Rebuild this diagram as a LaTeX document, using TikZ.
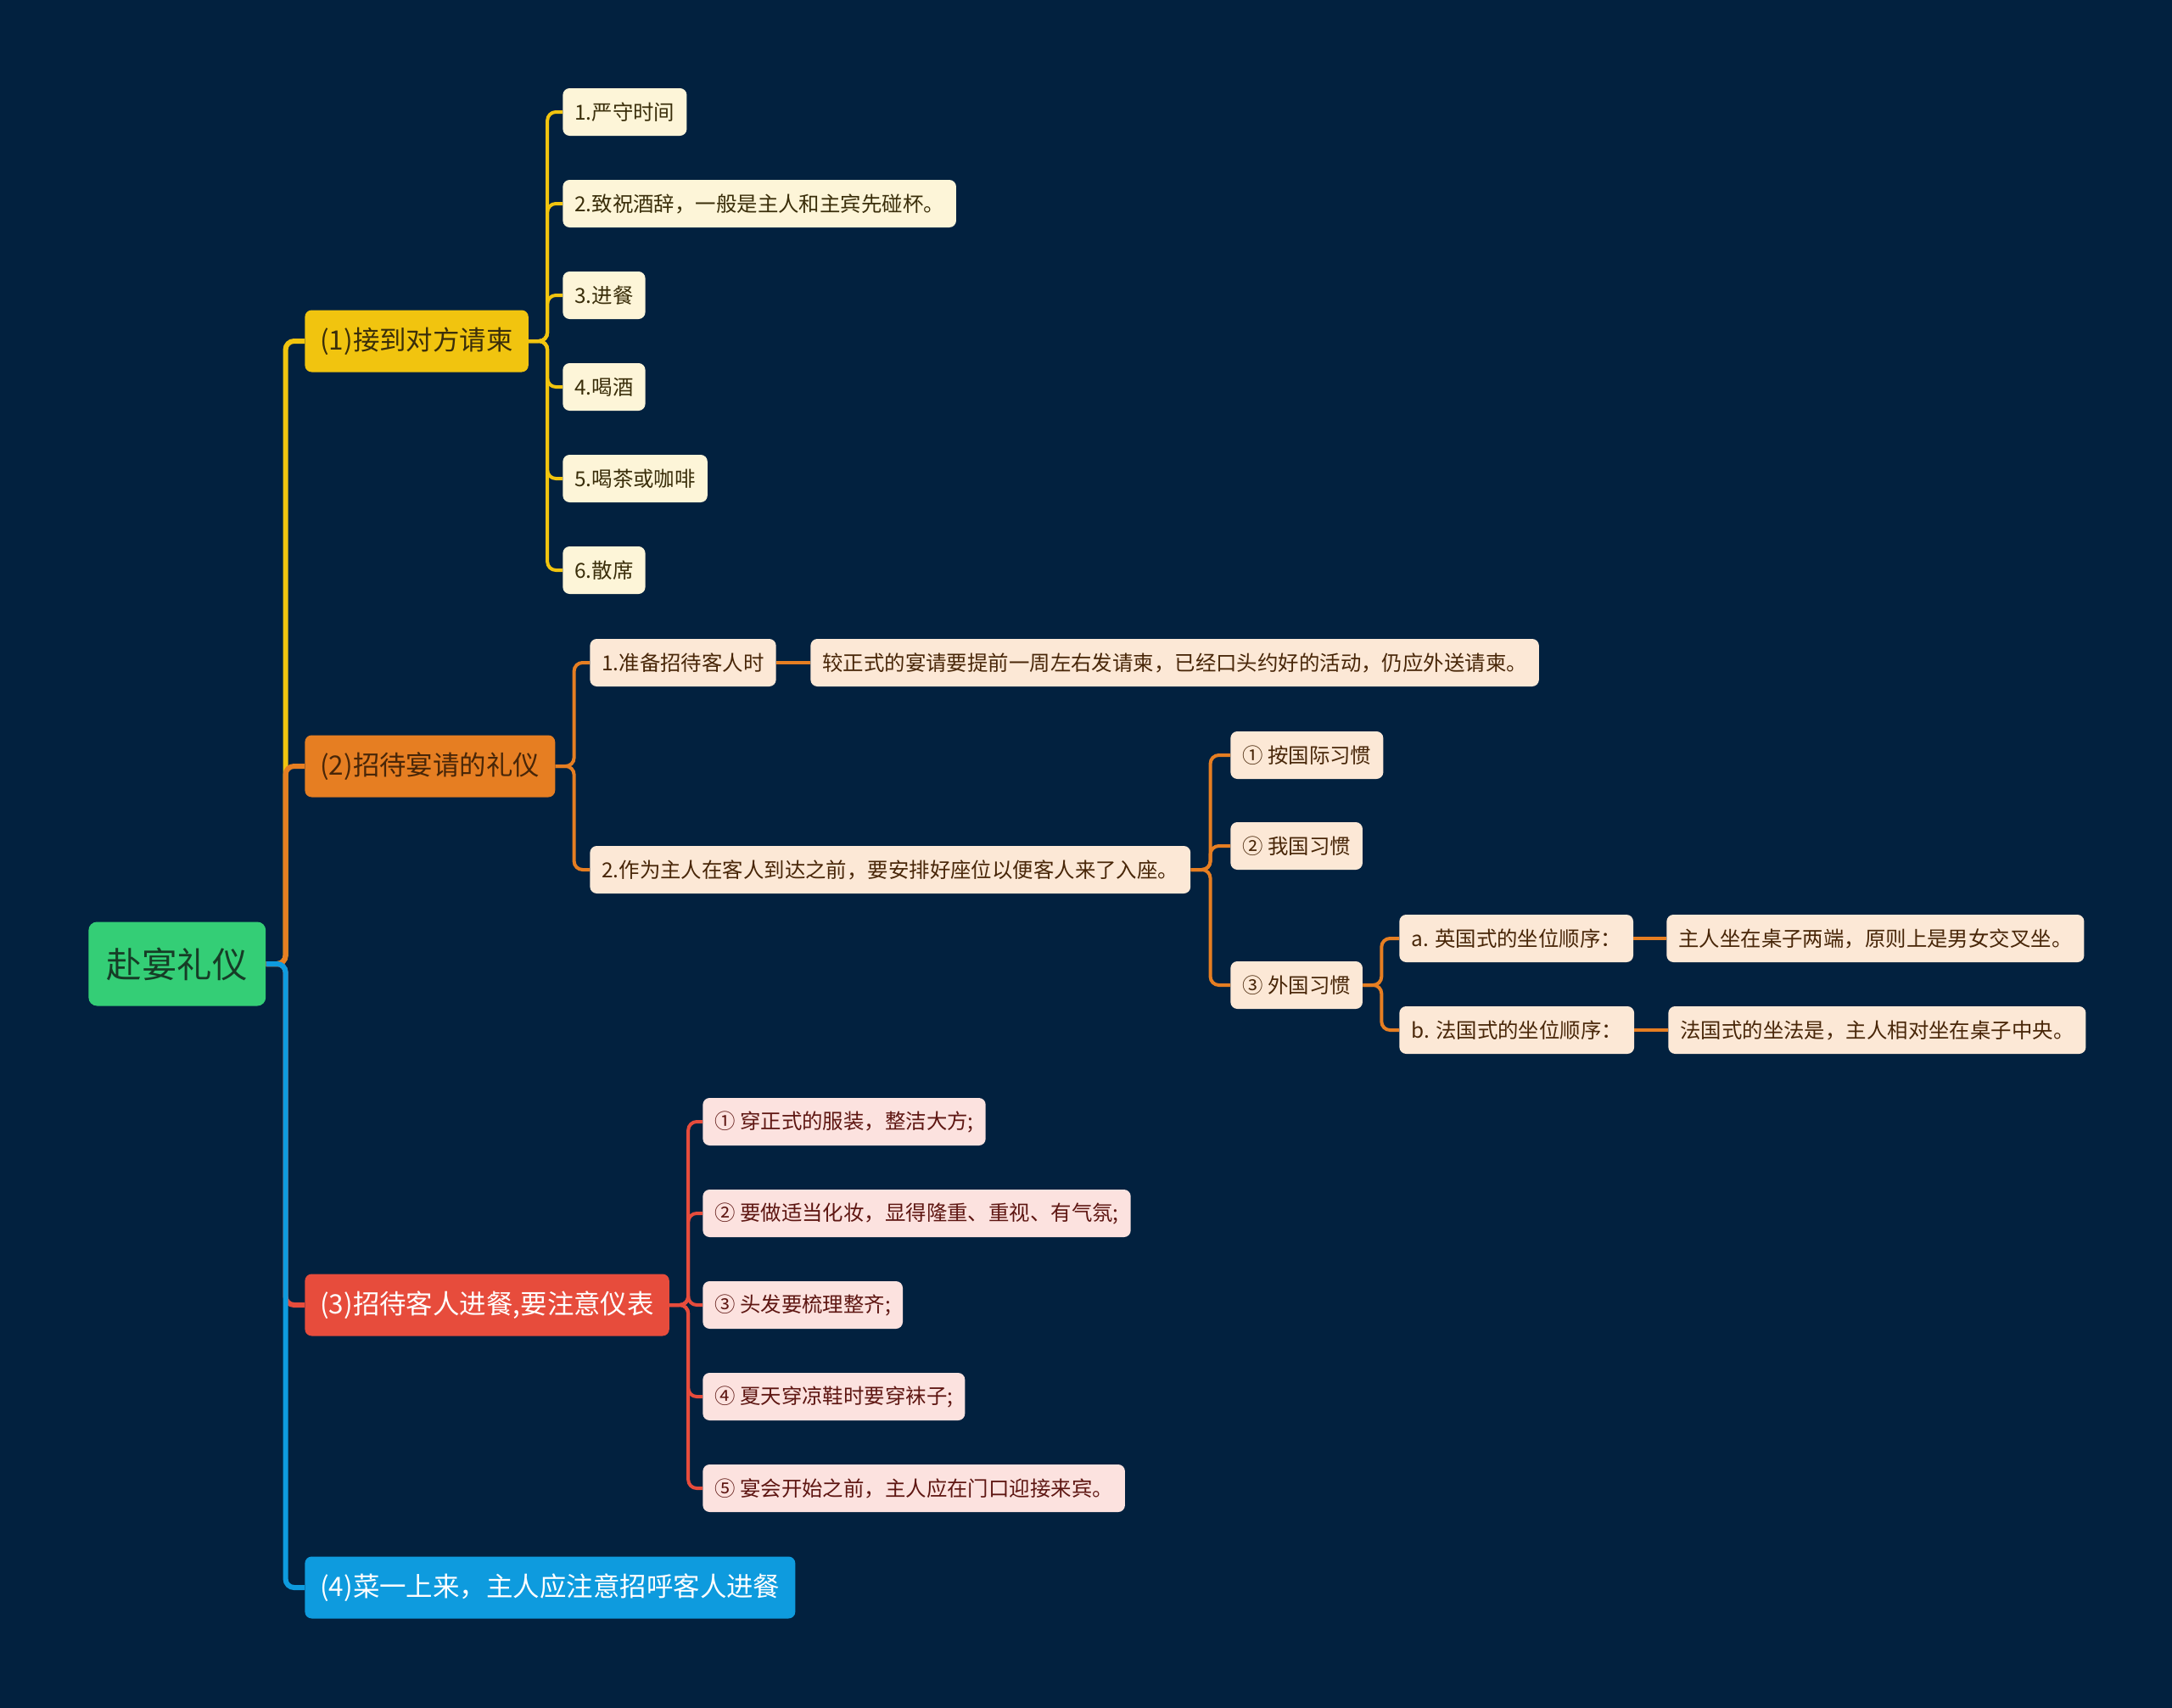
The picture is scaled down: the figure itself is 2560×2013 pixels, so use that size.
\documentclass[tikz,border=0pt]{standalone}
\usepackage{fontspec}
\setmainfont{Noto Sans CJK SC}

\definecolor{bg}{RGB}{2,33,63}
\definecolor{rootfill}{RGB}{52,206,118}
\definecolor{roottext}{RGB}{22,60,38}
\definecolor{yel}{RGB}{241,196,15}
\definecolor{ora}{RGB}{230,126,34}
\definecolor{redc}{RGB}{231,76,60}
\definecolor{blu}{RGB}{14,155,222}
\definecolor{yelleaf}{RGB}{253,245,216}
\definecolor{yeltext}{RGB}{58,46,10}
\definecolor{oraleaf}{RGB}{252,232,214}
\definecolor{oratext}{RGB}{72,38,8}
\definecolor{redleaf}{RGB}{252,226,223}
\definecolor{redtext}{RGB}{94,22,18}

\begin{document}
\begin{tikzpicture}[
  x=0.2mm, y=-0.2mm,
  every node/.style={inner sep=0pt},
  root/.style={rounded corners=2mm, fill=rootfill, text=roottext, anchor=west,
    minimum height=19.8mm, inner xsep=4.3mm, font=\fontsize{23.6pt}{26pt}\selectfont},
  topic/.style={rounded corners=1.6mm, anchor=west,
    minimum height=14.6mm, inner xsep=3.6mm, font=\fontsize{17.9pt}{20pt}\selectfont},
  leaf/.style={rounded corners=1.6mm, anchor=west,
    minimum height=11.2mm, inner xsep=2.8mm, font=\fontsize{13.9pt}{16pt}\selectfont},
  yleaf/.style={leaf, fill=yelleaf, text=yeltext},
  oleaf/.style={leaf, fill=oraleaf, text=oratext},
  rleaf/.style={leaf, fill=redleaf, text=redtext},
  % main branches are thicker than the twigs that hang off them
  link/.style={draw, line width=1.2mm, rounded corners=2mm},
  twig/.style={draw, line width=0.8mm, rounded corners=2mm}]

  \fill[bg] (0,0) rectangle (2560,2013);
  \useasboundingbox (0,0) rectangle (2560,2013);

  % vertices
  \node[root] (root) at (104,1136) {赴宴礼仪};

  \node[topic, fill=yel, text=yeltext]    (t1) at (359,402)  {(1)接到对方请柬};
  \node[topic, fill=ora, text=oratext]    (t2) at (359,903)  {(2)招待宴请的礼仪};
  \node[topic, fill=redc, text=white]     (t3) at (359,1538) {(3)招待客人进餐,要注意仪表};
  \node[topic, fill=blu, text=white]      (t4) at (359,1871) {(4)菜一上来，主人应注意招呼客人进餐};

  \node[yleaf] (a1) at (663,132) {1.严守时间};
  \node[yleaf] (a2) at (663,240) {2.致祝酒辞，一般是主人和主宾先碰杯。};
  \node[yleaf] (a3) at (663,348) {3.进餐};
  \node[yleaf] (a4) at (663,456) {4.喝酒};
  \node[yleaf] (a5) at (663,564) {5.喝茶或咖啡};
  \node[yleaf] (a6) at (663,672) {6.散席};

  \node[oleaf] (b1)   at (695,781)   {1.准备招待客人时};
  \node[oleaf] (b1x)  at (955,781)   {较正式的宴请要提前一周左右发请柬，已经口头约好的活动，仍应外送请柬。};
  \node[oleaf] (b2)   at (695,1025)  {2.作为主人在客人到达之前，要安排好座位以便客人来了入座。};
  \node[oleaf] (b21)  at (1450,890)  {① 按国际习惯};
  \node[oleaf] (b22)  at (1450,997)  {② 我国习惯};
  \node[oleaf] (b23)  at (1450,1161) {③ 外国习惯};
  \node[oleaf] (b23a) at (1649,1106) {a. 英国式的坐位顺序：};
  \node[oleaf] (b23b) at (1649,1214) {b. 法国式的坐位顺序：};
  \node[oleaf] (b23ax) at (1964,1106) {主人坐在桌子两端，原则上是男女交叉坐。};
  \node[oleaf] (b23bx) at (1966,1214) {法国式的坐法是，主人相对坐在桌子中央。};

  \node[rleaf] (c1) at (828,1322) {① 穿正式的服装，整洁大方;};
  \node[rleaf] (c2) at (828,1430) {② 要做适当化妆，显得隆重、重视、有气氛;};
  \node[rleaf] (c3) at (828,1538) {③ 头发要梳理整齐;};
  \node[rleaf] (c4) at (828,1646) {④ 夏天穿凉鞋时要穿袜子;};
  \node[rleaf] (c5) at (828,1754) {⑤ 宴会开始之前，主人应在门口迎接来宾。};

  % connectors from the root
  \draw[link, yel]  (root.east) -- ++(23,0) |- (t1.west);
  \draw[link, ora]  (root.east) -- ++(23,0) |- (t2.west);
  \draw[link, redc] (root.east) -- ++(23,0) |- (t3.west);
  \draw[link, blu]  (root.east) -- ++(23,0) |- (t4.west);

  % connectors of branch (1)
  \draw[twig, yel] (t1.east) -- ++(22,0) |- (a1.west);
  \draw[twig, yel] (t1.east) -- ++(22,0) |- (a2.west);
  \draw[twig, yel] (t1.east) -- ++(22,0) |- (a3.west);
  \draw[twig, yel] (t1.east) -- ++(22,0) |- (a4.west);
  \draw[twig, yel] (t1.east) -- ++(22,0) |- (a5.west);
  \draw[twig, yel] (t1.east) -- ++(22,0) |- (a6.west);

  % connectors of branch (2)
  \draw[twig, ora] (t2.east) -- ++(22,0) |- (b1.west);
  \draw[twig, ora] (t2.east) -- ++(22,0) |- (b2.west);
  \draw[twig, ora] (b1.east) -- (b1x.west);
  \draw[twig, ora] (b2.east) -- ++(23,0) |- (b21.west);
  \draw[twig, ora] (b2.east) -- ++(23,0) |- (b22.west);
  \draw[twig, ora] (b2.east) -- ++(23,0) |- (b23.west);
  \draw[twig, ora] (b23.east) -- ++(22,0) |- (b23a.west);
  \draw[twig, ora] (b23.east) -- ++(22,0) |- (b23b.west);
  \draw[twig, ora] (b23a.east) -- (b23ax.west);
  \draw[twig, ora] (b23b.east) -- (b23bx.west);

  % connectors of branch (3)
  \draw[twig, redc] (t3.east) -- ++(22,0) |- (c1.west);
  \draw[twig, redc] (t3.east) -- ++(22,0) |- (c2.west);
  \draw[twig, redc] (t3.east) -- ++(22,0) |- (c3.west);
  \draw[twig, redc] (t3.east) -- ++(22,0) |- (c4.west);
  \draw[twig, redc] (t3.east) -- ++(22,0) |- (c5.west);
\end{tikzpicture}
\end{document}
